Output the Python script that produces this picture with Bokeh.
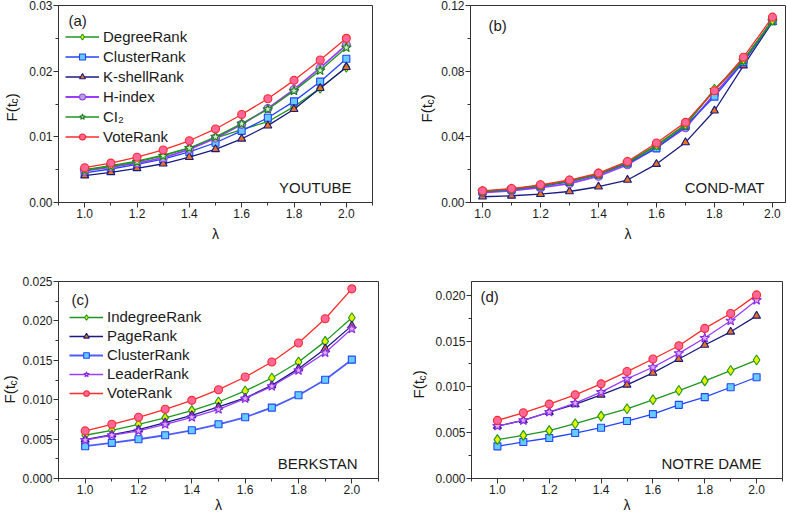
from math import pi
from bokeh.plotting import figure
from bokeh.models import Range1d, SingleIntervalTicker, NumeralTickFormatter, Label
from bokeh.layouts import column, row
from bokeh.embed import file_html
from bokeh.resources import INLINE

# ---------------- data ----------------
lam = [1.0, 1.1, 1.2, 1.3, 1.4, 1.5, 1.6, 1.7, 1.8, 1.9, 2.0]

# (a) YOUTUBE
a_degree = [0.0050, 0.0056, 0.0063, 0.0072, 0.0083, 0.0098, 0.0111, 0.0123, 0.0146, 0.0174, 0.0206]
a_cluster = [0.0045, 0.0051, 0.0058, 0.0066, 0.0077, 0.0091, 0.0109, 0.0129, 0.0154, 0.0184, 0.0219]
a_kshell = [0.0041, 0.0046, 0.0052, 0.0059, 0.0069, 0.0081, 0.0097, 0.0117, 0.0142, 0.0174, 0.0206]
a_hindex = [0.0048, 0.0054, 0.0060, 0.0068, 0.0081, 0.0098, 0.0119, 0.0143, 0.0172, 0.0205, 0.0240]
a_ci2 = [0.0049, 0.0055, 0.0062, 0.0071, 0.0083, 0.0100, 0.0120, 0.0142, 0.0170, 0.0201, 0.0236]
a_vote = [0.0053, 0.0060, 0.0069, 0.0080, 0.0094, 0.0112, 0.0134, 0.0158, 0.0186, 0.0217, 0.0250]

# (b) COND-MAT
b_degree = [0.0068, 0.0082, 0.0104, 0.0132, 0.0175, 0.0246, 0.0350, 0.0475, 0.0690, 0.0870, 0.1110]
b_cluster = [0.0065, 0.0078, 0.0098, 0.0125, 0.0170, 0.0238, 0.0330, 0.0465, 0.0645, 0.0855, 0.1105]
b_kshell = [0.0035, 0.0041, 0.0051, 0.0067, 0.0096, 0.0137, 0.0234, 0.0366, 0.0559, 0.0834, 0.1098]
b_hindex = [0.0060, 0.0072, 0.0090, 0.0115, 0.0160, 0.0230, 0.0335, 0.0455, 0.0660, 0.0860, 0.1110]
b_ci2 = [0.0067, 0.0081, 0.0102, 0.0130, 0.0172, 0.0243, 0.0345, 0.0470, 0.0685, 0.0865, 0.1105]
b_vote = [0.0071, 0.0085, 0.0108, 0.0137, 0.0179, 0.0250, 0.0362, 0.0488, 0.0681, 0.0885, 0.1129]

# (c) BERKSTAN
c_indegree = [0.00549, 0.00612, 0.00688, 0.00769, 0.00861, 0.00971, 0.01111, 0.01275, 0.01478, 0.0174, 0.0204]
c_page = [0.00494, 0.00557, 0.0062, 0.0071, 0.00802, 0.00908, 0.01022, 0.01182, 0.01394, 0.01647, 0.0194]
c_cluster = [0.0041, 0.00452, 0.00498, 0.00549, 0.00612, 0.00688, 0.00777, 0.0090, 0.01056, 0.01254, 0.01508]
c_leader = [0.00486, 0.00549, 0.00604, 0.00688, 0.00777, 0.00878, 0.01014, 0.0117, 0.01372, 0.01596, 0.0190]
c_vote = [0.00604, 0.00688, 0.00777, 0.00878, 0.00992, 0.01127, 0.01288, 0.01478, 0.01719, 0.02027, 0.02407]

# (d) NOTRE DAME
d_indegree = [0.00424, 0.00471, 0.00522, 0.00598, 0.00681, 0.00761, 0.00859, 0.0096, 0.01065, 0.01178, 0.01293]
d_page = [0.00572, 0.00634, 0.00725, 0.00808, 0.00913, 0.01022, 0.01152, 0.01304, 0.01457, 0.01601, 0.01775]
d_cluster = [0.00351, 0.00399, 0.00442, 0.00496, 0.00554, 0.00627, 0.00703, 0.00804, 0.00888, 0.00996, 0.01105]
d_leader = [0.00572, 0.00634, 0.00725, 0.00822, 0.00942, 0.01087, 0.01214, 0.01366, 0.01533, 0.01721, 0.01946]
d_vote = [0.00634, 0.00717, 0.00812, 0.00913, 0.01033, 0.01167, 0.01304, 0.01449, 0.01638, 0.01801, 0.02004]

# ---------------- styles ----------------
FONT = "Liberation Sans"
TXT = "#1a1a1a"
AX = "#333333"

STY = {
    "degree": dict(line="#1e961e", marker="diamond", fill="#e6f000", edge="#1e961e", size=10, lw=1.3),
    "cluster": dict(line="#2244ff", marker="square", fill="#66ccff", edge="#2244ff", size=7, lw=1.3),
    "clusterc": dict(line="#4d5cff", marker="square", fill="#66ccff", edge="#2244ff", size=7, lw=1.8),
    "kshell": dict(line="#1a1a80", marker="triangle", fill="#e8731a", edge="#1a1a80", size=8, lw=1.3),
    "hindex": dict(line="#9a3cff", marker="circle", fill="#b4a8c8", edge="#9a3cff", size=8, lw=1.8),
    "ci2": dict(line="#1e961e", marker="star", fill="#c8f0c8", edge="#1e7a1e", size=10, lw=1.3),
    "leader": dict(line="#9a3cff", marker="star", fill="#d8b0ff", edge="#8a2be2", size=10, lw=1.3),
    "vote": dict(line="#ff2a2a", marker="circle", fill="#ff6699", edge="#ff2a2a", size=8, lw=1.3),
}

H = 258


def make_fig(W, fl, fr, ft, fb, xr, yr, yint, yfmt, lab_standoff):
    p = figure(width=W, height=H, x_range=Range1d(*xr), y_range=Range1d(*yr),
               output_backend="svg", toolbar_location=None,
               min_border_left=fl, min_border_right=fr, min_border_top=ft, min_border_bottom=fb)
    p.grid.visible = False
    p.outline_line_color = AX
    p.outline_line_width = 1
    p.xaxis.ticker = SingleIntervalTicker(interval=0.2, num_minor_ticks=2)
    p.yaxis.ticker = SingleIntervalTicker(interval=yint, num_minor_ticks=2)
    p.xaxis.formatter = NumeralTickFormatter(format="0.0")
    p.yaxis.formatter = NumeralTickFormatter(format=yfmt)
    for ax in (p.xaxis[0], p.yaxis[0]):
        ax.axis_line_color = AX
        ax.major_tick_line_color = AX
        ax.minor_tick_line_color = AX
        ax.major_tick_out = 5
        ax.major_tick_in = 0
        ax.minor_tick_out = 3
        ax.minor_tick_in = 0
        ax.major_label_text_font = FONT
        ax.major_label_text_font_size = "12px"
        ax.major_label_text_color = TXT
        ax.major_label_standoff = 1
    xa = p.xaxis[0]
    xa.axis_label = "λ"
    xa.axis_label_text_font = FONT
    xa.axis_label_text_font_size = "14px"
    xa.axis_label_text_font_style = "normal"
    xa.axis_label_text_color = TXT
    xa.axis_label_standoff = lab_standoff
    return p


def add_series(p, y, key, label=None):
    s = STY[key]
    kw = {"legend_label": label} if label else {}
    p.line(lam, y, line_color=s["line"], line_width=s["lw"], **kw)
    p.scatter(lam, y, marker=s["marker"], size=s["size"], fill_color=s["fill"],
              line_color=s["edge"], line_width=1.1, **kw)


def ylabel_fig(W, ft, fb, cx, y0):
    """Narrow strip (same vertical frame as its panel) holding the rotated title F(t_c)."""
    q = figure(width=W, height=H, x_axis_type=None, y_axis_type=None,
               output_backend="svg", toolbar_location=None,
               min_border_left=0, min_border_right=0, min_border_top=ft, min_border_bottom=fb)
    q.outline_line_color = None
    q.grid.visible = False
    common = dict(x_units="screen", y_units="screen", angle=pi / 2, text_font=FONT,
                  text_color=TXT, text_align="left", text_baseline="middle")
    q.add_layout(Label(x=cx, y=y0, text="F(t", text_font_size="15px", **common))
    q.add_layout(Label(x=cx + 3.5, y=y0 + 18.0, text="c", text_font_size="10px", **common))
    q.add_layout(Label(x=cx, y=y0 + 23.2, text=")", text_font_size="15px", **common))
    return q


def add_texts(p, fw, tag, name, tag_dx, tag_dy, fh):
    p.add_layout(Label(x=tag_dx, y=fh - tag_dy, x_units="screen", y_units="screen", text=tag,
                       text_font=FONT, text_font_size="15px", text_color=TXT,
                       text_align="left", text_baseline="top"))
    p.add_layout(Label(x=fw - 21, y=15, x_units="screen", y_units="screen", text=name,
                       text_font=FONT, text_font_size="15px", text_color=TXT,
                       text_align="right", text_baseline="alphabetic"))


def style_legend(p, loc, lh, sp):
    lg = p.legend[0]
    lg.location = loc
    lg.border_line_color = None
    lg.background_fill_alpha = 0
    lg.padding = 0
    lg.margin = 0
    lg.spacing = sp
    lg.glyph_width = 34
    lg.glyph_height = lh
    lg.label_height = lh
    lg.label_standoff = 4
    lg.label_text_font = FONT
    lg.label_text_font_size = "15px"
    lg.label_text_color = TXT


# ---------------- panel (a) ----------------
la = ylabel_fig(21, 5, 56, 10.5, 81)
pa = make_fig(393, 37, 42, 5, 56, (0.9, 2.1), (0.0, 0.03), 0.01, "0.00", 5)
add_series(pa, a_degree, "degree", "DegreeRank")
add_series(pa, a_cluster, "cluster", "ClusterRank")
add_series(pa, a_kshell, "kshell", "K-shellRank")
add_series(pa, a_hindex, "hindex", "H-index")
add_series(pa, a_ci2, "ci2", "CI\u2082")
add_series(pa, a_vote, "vote", "VoteRank")
style_legend(pa, (7, 57), 15, 3)
add_texts(pa, 314, "(a)", "YOUTUBE", 10, 6, 197)

# ---------------- panel (b) ----------------
lb = ylabel_fig(22, 5, 56, 12, 80)
pb = make_fig(350, 34, 1, 5, 56, (0.9586, 2.045), (0.0, 0.12), 0.04, "0.00", 5)
add_series(pb, b_kshell, "kshell")
add_series(pb, b_hindex, "hindex")
add_series(pb, b_cluster, "cluster")
add_series(pb, b_ci2, "ci2")
add_series(pb, b_degree, "degree")
add_series(pb, b_vote, "vote")
add_texts(pb, 315, "(b)", "COND-MAT", 18, 11, 197)

# ---------------- panel (c) ----------------
lc = ylabel_fig(19, 23, 38, 9, 75)
pc = make_fig(389, 39, 30, 23, 38, (0.9, 2.1), (0.0, 0.025), 0.005, "0.000", 0)
add_series(pc, c_indegree, "degree", "IndegreeRank")
add_series(pc, c_page, "kshell", "PageRank")
add_series(pc, c_cluster, "clusterc", "ClusterRank")
add_series(pc, c_leader, "leader", "LeaderRank")
add_series(pc, c_vote, "vote", "VoteRank")
style_legend(pc, (11, 77), 14, 2)
add_texts(pc, 320, "(c)", "BERKSTAN", 13, 9, 197)

# ---------------- panel (d) ----------------
ld = ylabel_fig(21, 23, 38, 10, 80)
pd = make_fig(357, 42, 4, 23, 38, (0.9, 2.1), (0.0, 0.0215), 0.005, "0.000", 0)
add_series(pd, d_cluster, "cluster")
add_series(pd, d_indegree, "degree")
add_series(pd, d_page, "kshell")
add_series(pd, d_leader, "leader")
add_series(pd, d_vote, "vote")
add_texts(pd, 311, "(d)", "NOTRE DAME", 9, 6, 197)

layout = column(row(la, pa, lb, pb), row(lc, pc, ld, pd))
open("out.html", "w").write(file_html(layout, INLINE))
